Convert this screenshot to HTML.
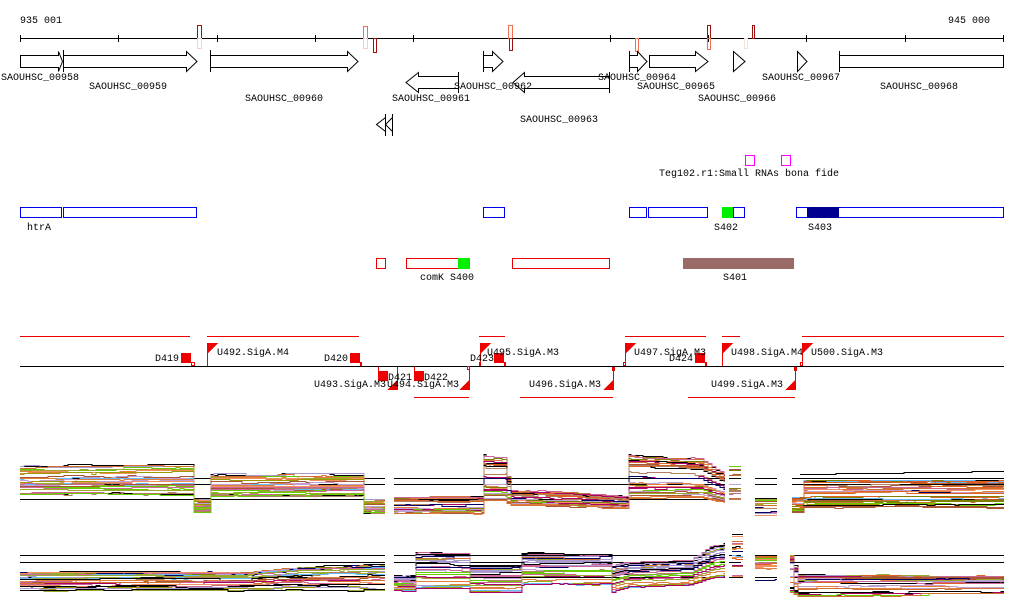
<!DOCTYPE html>
<html><head><meta charset="utf-8"><style>
html,body{margin:0;padding:0;background:#fff;width:1024px;height:611px;overflow:hidden}
svg text{font-family:"Liberation Mono","DejaVu Sans Mono",monospace;font-size:10px;fill:#000}
</style></head><body>
<svg id="s" width="1024" height="611" viewBox="0 0 1024 611" xmlns="http://www.w3.org/2000/svg" shape-rendering="crispEdges">
<text x="20" y="23">935 001</text>
<text x="948" y="23">945 000</text>
<line x1="20" y1="38.5" x2="1004" y2="38.5" stroke="#000"/>
<g stroke="#000">
<line x1="20.5" y1="35" x2="20.5" y2="42"/><line x1="118.5" y1="35" x2="118.5" y2="42"/><line x1="217.5" y1="35" x2="217.5" y2="42"/><line x1="315.5" y1="35" x2="315.5" y2="42"/><line x1="413.5" y1="35" x2="413.5" y2="42"/><line x1="610.5" y1="35" x2="610.5" y2="42"/><line x1="708.5" y1="35" x2="708.5" y2="42"/><line x1="806.5" y1="35" x2="806.5" y2="42"/><line x1="905.5" y1="35" x2="905.5" y2="42"/><line x1="1003.5" y1="35" x2="1003.5" y2="42"/>
</g>
<g fill="none">
<rect x="197.5" y="25.5" width="4" height="13" stroke="#a01010"/><rect x="197.5" y="38.5" width="4" height="10" stroke="#f8d0c0"/>
<rect x="363.5" y="26.5" width="4" height="12" stroke="#f07050"/><rect x="363.5" y="38.5" width="4" height="10" stroke="#f8d0c0"/>
<rect x="373.5" y="38.5" width="3" height="14" stroke="#a01010"/>
<rect x="508.5" y="25.5" width="4" height="13" stroke="#f07050"/><rect x="509.5" y="38.5" width="3" height="12" stroke="#a01010"/>
<rect x="635.5" y="38.5" width="3" height="13" stroke="#f07050"/>
<rect x="707.5" y="25.5" width="3" height="13" stroke="#a01010"/><rect x="707.5" y="38.5" width="3" height="11" stroke="#f07050"/>
<rect x="744.5" y="38.5" width="3" height="10" stroke="#f8e0d8"/>
<rect x="752.5" y="25.5" width="2" height="13" stroke="#a01010"/>
</g>
<g fill="#fff" stroke="#000" stroke-width="1" shape-rendering="auto">
<path d="M20.5 55.5H58.5V51.5L62.5 61.5L58.5 71.5V67.5H20.5Z"/>
<path d="M63.5 55.5H186.5V51.5L197 61.5L186.5 71.5V67.5H63.5Z"/><line x1="63.5" y1="50" x2="63.5" y2="72"/>
<path d="M210.5 55.5H347.5V51.5L358 61.5L347.5 71.5V67.5H210.5Z"/><line x1="210.5" y1="50" x2="210.5" y2="72"/>
<path d="M458.5 76.5H418.5V72.5L406 82.5L418.5 92.5V88.5H458.5Z"/><line x1="458.5" y1="72" x2="458.5" y2="93"/>
<path d="M483.5 55.5H492.5V51.5L503 61.5L492.5 71.5V67.5H483.5Z"/><line x1="483.5" y1="51" x2="483.5" y2="72"/>
<path d="M609.5 76.5H524.5V72.5L513 82.5L524.5 92.5V88.5H609.5Z"/><line x1="609.5" y1="72" x2="609.5" y2="93"/>
<path d="M629.5 55.5H637.5V51.5L647 61.5L637.5 71.5V67.5H629.5Z"/><line x1="629.5" y1="51" x2="629.5" y2="72"/>
<path d="M649.5 55.5H695.5V51.5L708 61.5L695.5 71.5V67.5H649.5Z"/>
<path d="M733.5 51.5L745 61.5L733.5 71.5Z"/>
<path d="M797.5 51.5L807 61.5L797.5 71.5Z"/>
<rect x="839.5" y="55.5" width="164" height="12"/><line x1="839.5" y1="51" x2="839.5" y2="72"/>
<path d="M385.5 117.5L376.5 124.5L385.5 131.5"/><path d="M392.5 117.5L385.5 124.5L392.5 131.5"/>
<line x1="385.5" y1="114" x2="385.5" y2="136"/><line x1="392.5" y1="114" x2="392.5" y2="136"/>
</g>
<text x="1" y="80">SAOUHSC_00958</text>
<text x="89" y="89">SAOUHSC_00959</text>
<text x="245" y="101">SAOUHSC_00960</text>
<text x="392" y="101">SAOUHSC_00961</text>
<text x="454" y="89">SAOUHSC_00962</text>
<text x="520" y="122">SAOUHSC_00963</text>
<text x="598" y="80">SAOUHSC_00964</text>
<text x="637" y="89">SAOUHSC_00965</text>
<text x="698" y="101">SAOUHSC_00966</text>
<text x="762" y="80">SAOUHSC_00967</text>
<text x="880" y="89">SAOUHSC_00968</text>
<rect x="745.5" y="155.5" width="9" height="10" fill="none" stroke="#f0f"/>
<rect x="781.5" y="155.5" width="9" height="10" fill="none" stroke="#f0f"/>
<text x="659" y="176">Teg102.r1:Small RNAs bona fide</text>
<g fill="none" stroke="#0000ee">
<rect x="20.5" y="207.5" width="41" height="10"/><rect x="63.5" y="207.5" width="133" height="10"/>
<rect x="483.5" y="207.5" width="21" height="10"/><rect x="629.5" y="207.5" width="17" height="10"/>
<rect x="648.5" y="207.5" width="59" height="10"/><rect x="733.5" y="207.5" width="11" height="10"/>
<rect x="796.5" y="207.5" width="207" height="10"/>
</g>
<rect x="722" y="207" width="11" height="11" fill="#00ee00"/>
<rect x="807" y="207" width="32" height="11" fill="#000090"/>
<text x="27" y="230">htrA</text><text x="714" y="230">S402</text><text x="808" y="230">S403</text>
<g fill="none" stroke="#ee0000">
<rect x="376.5" y="258.5" width="9" height="10"/><rect x="406.5" y="258.5" width="52" height="10"/>
<rect x="512.5" y="258.5" width="97" height="10"/>
</g>
<rect x="458" y="258" width="12" height="11" fill="#00ee00"/>
<rect x="683" y="258" width="111" height="11" fill="#9a6a66"/>
<text x="420" y="280">comK</text><text x="450" y="280">S400</text><text x="723" y="280">S401</text>
<g stroke="#ee0000">
<line x1="20" y1="336.5" x2="190" y2="336.5"/><line x1="207" y1="336.5" x2="359" y2="336.5"/>
<line x1="479" y1="336.5" x2="505" y2="336.5"/><line x1="625" y1="336.5" x2="706" y2="336.5"/>
<line x1="722" y1="336.5" x2="740" y2="336.5"/><line x1="802" y1="336.5" x2="1004" y2="336.5"/>
<line x1="414" y1="397.5" x2="469" y2="397.5"/><line x1="520" y1="397.5" x2="613" y2="397.5"/>
<line x1="688" y1="397.5" x2="795" y2="397.5"/>
</g>
<line x1="20" y1="366.5" x2="1004" y2="366.5" stroke="#000"/>
<g fill="#ee0000" stroke="none">
<rect x="207" y="343" width="1" height="23"/><path d="M207 343H218L207 354Z"/>
<rect x="480" y="343" width="1" height="23"/><path d="M480 343H491L480 354Z"/>
<rect x="625" y="343" width="1" height="23"/><path d="M625 343H636L625 354Z"/>
<rect x="722" y="343" width="1" height="23"/><path d="M722 343H733L722 354Z"/>
<rect x="802" y="343" width="1" height="23"/><path d="M802 343H813L802 354Z"/>
<rect x="397" y="367" width="1" height="23"/><path d="M398 390H387L398 379Z"/>
<rect x="469" y="367" width="1" height="23"/><path d="M470 390H459L470 379Z"/>
<rect x="613" y="367" width="1" height="23"/><path d="M614 390H603L614 379Z"/>
<rect x="795" y="367" width="1" height="23"/><path d="M796 390H785L796 379Z"/>
<rect x="181" y="353" width="10" height="10"/>
<rect x="350" y="353" width="10" height="10"/><rect x="360" y="362" width="2" height="4"/>
<rect x="494" y="353" width="10" height="10"/><rect x="504" y="362" width="2" height="4"/><rect x="479" y="362" width="2" height="4"/>
<rect x="695" y="353" width="10" height="10"/><rect x="705" y="362" width="2" height="4"/>
<rect x="378" y="367" width="1" height="5"/><rect x="378" y="371" width="10" height="10"/>
<rect x="414" y="367" width="1" height="5"/><rect x="414" y="371" width="10" height="10"/>
<rect x="612" y="367" width="3" height="4"/><rect x="794" y="367" width="3" height="4"/>
</g>
<g fill="none" stroke="#ee0000">
<rect x="191.5" y="362.5" width="3" height="3"/><rect x="467.5" y="366.5" width="2" height="3"/>
<rect x="623.5" y="362.5" width="2" height="3"/><rect x="800.5" y="362.5" width="2" height="3"/>
</g>
<text x="155" y="361">D419</text><text x="217" y="355">U492.SigA.M4</text>
<text x="324" y="361">D420</text><text x="388" y="380">D421</text><text x="424" y="380">D422</text>
<text x="314" y="387">U493.SigA.M3</text><text x="387" y="387">U494.SigA.M3</text>
<text x="470" y="361">D423</text><text x="487" y="355">U495.SigA.M3</text>
<text x="529" y="387">U496.SigA.M3</text><text x="634" y="355">U497.SigA.M3</text>
<text x="669" y="361">D424</text><text x="731" y="355">U498.SigA.M4</text>
<text x="711" y="387">U499.SigA.M3</text><text x="811" y="355">U500.SigA.M3</text>
<g id="hl" stroke="#000" stroke-width="1.3"></g>
<g id="plots" fill="none" stroke-width="1"></g>
</svg>
<script>
(function(){
var NS="http://www.w3.org/2000/svg";
var g=document.getElementById("plots"),hl=document.getElementById("hl");
var seed=7;function r(){seed=(seed*16807)%2147483647;return seed/2147483647;}
var cols=["#e06020","#d07030","#9a9a00","#808000","#66cc00","#aa0066","#66bbff","#aa99cc","#aa5533","#cc6699","#e08040","#000060","#b08060","#99aa33","#c0a0d0","#f09060"];
function seg(knots,n){
 var fs=[];for(var i=0;i<n;i++)fs.push(r());fs.sort();fs[0]=0;
 var xe=knots[knots.length-1][0];
 for(var i=0;i<n;i++){
  var f=Math.pow(fs[i],1.4);
  var col=(i==0||r()<0.06)?"#000":cols[Math.floor(r()*cols.length)];
  var d="",off=0,first=true;
  for(var k=0;k<knots.length-1;k++){
   var a=knots[k],b=knots[k+1];
   for(var x=a[0];x<b[0];x+=4){
    var t=(x-a[0])/Math.max(1,b[0]-a[0]);
    var top=a[1]+(b[1]-a[1])*t,bot=a[2]+(b[2]-a[2])*t;
    if(r()<0.12)off=Math.round((r()-0.5)*3);
    var y=Math.round(top+(bot-top)*f+off)+0.5;
    var xn=Math.min(x+4,xe);
    if(first){d="M"+x+" "+y+"H"+xn;first=false;}else d+="V"+y+"H"+xn;
   }
  }
  var p=document.createElementNS(NS,"path");p.setAttribute("d",d);p.setAttribute("stroke",col);g.appendChild(p);
 }
}
function L(x1,x2,y){var l=document.createElementNS(NS,"line");l.setAttribute("x1",x1);l.setAttribute("x2",x2);l.setAttribute("y1",y);l.setAttribute("y2",y);hl.appendChild(l);}
[[20,385],[394,725],[729,741],[755,777],[792,1004]].forEach(function(s){L(s[0],s[1],478.5);L(s[0],s[1],484.5);L(s[0],s[1],499.5);L(s[0],s[1],555.5);L(s[0],s[1],562.5);L(s[0],s[1],577.5);});
var N=30;
seg([[20,466,497],[190,464,497],[194,498,512],[207,498,512],[210,474,498],[360,474,498],[363,500,515],[385,500,514]],N);
seg([[394,497,513],[480,497,513],[482,455,500],[503,456,500],[510,490,505],[570,492,506],[625,497,507],[627,455,497],[700,458,497],[725,475,502]],N);
seg([[729,466,500],[741,466,500]],18);
seg([[755,498,516],[777,498,516]],18);
seg([[792,498,512],[800,498,512],[803,481,508],[1004,481,508]],N);
seg([[800,474,476],[1004,471,474]],1);
seg([[20,572,590],[250,572,590],[300,567,589],[385,565,590]],N);
seg([[394,575,590],[412,575,590],[414,552,588],[466,553,588],[468,565,592],[518,565,592],[520,553,585],[608,553,585],[612,565,592],[625,562,588],[690,560,585],[712,545,578],[725,543,577]],N);
seg([[732,534,578],[743,534,578]],18);
seg([[755,555,585],[777,555,585]],18);
seg([[790,555,592],[797,575,595],[1004,576,594]],N);
})();
</script>
</body></html>
